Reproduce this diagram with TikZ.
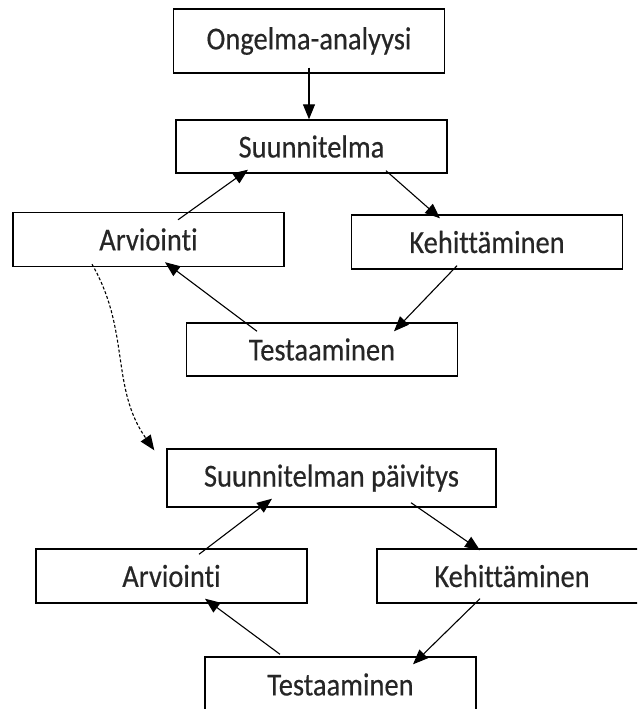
\documentclass[tikz,border=0pt]{standalone}
\usepackage{fontspec}
\setmainfont[FakeStretch=0.89,FakeBold=0.4,Ligatures=NoCommon]{Carlito}
\usetikzlibrary{arrows.meta}

\begin{document}
\begin{tikzpicture}[x=1pt,y=-1pt,
every node/.style={anchor=center,
line width=1.4pt,
minimum width=271pt,
minimum height=54pt,
inner sep=0pt,
font=\fontsize{32}{38}\selectfont,
text=black!85,
draw
},
wide/.style={%
minimum width=329pt,
minimum height=58pt
},
flow/.style={%
-{Triangle[length=15pt,width=12pt]},line width=1.1pt
},
later/.style={%
flow,dash pattern=on 3pt off 2pt
}]
\useasboundingbox (0,0) rectangle (637,709);
\clip (0,0) rectangle (637,709);
\node[minimum height=64pt]at(309,41)(oa){Ongelma-analyysi};
\node[minimum height=53pt]at(311.5,146.5)(sun){Suunnitelma};
\node[]at(148.5,239.5)(arv1){Arviointi};
\node[]at(487,242)(keh1){Kehittäminen};
\node[minimum height=53pt]at(322,349.5)(tes1){Testaaminen};
\node[wide]at(331.5,478)(pai){Suunnitelman päivitys};
\node[]at(171.5,576)(arv2){Arviointi};
\node[minimum width=270pt]at(512,576)(keh2){Kehittäminen};
\node[minimum height=55pt]at(340.5,684.5)(tes2){Testaaminen};
% first round
\draw [flow] ([yshift=6pt]oa.south)--(oa.south |- sun.north);
\draw [flow] ([xshift=29.5pt,yshift=-8pt]arv1.north)--([xshift=-63.5pt,yshift=4pt]sun.south);
\draw [flow] ([xshift=74.5pt,yshift=3pt]sun.south)--([xshift=-47pt,yshift=-4pt]keh1.north);
\draw [flow] ([xshift=-30pt,yshift=4pt]keh1.south)--([xshift=72pt,yshift=-9pt]tes1.north);
\draw [flow] ([xshift=-65pt,yshift=-9pt]tes1.north)--([xshift=16.5pt,yshift=5pt]arv1.south);
% to the update
\draw [later] ([xshift=-56.5pt,yshift=3pt]arv1.south) to[out=-60,in=125] ([xshift=-12pt,yshift=-2pt]pai.north west);
% second round
\draw [flow] ([xshift=27.5pt,yshift=-6pt]arv2.north)--([xshift=-59.5pt,yshift=9pt]pai.south);
\draw [flow] ([xshift=79.5pt,yshift=5pt]pai.south)--([xshift=-32pt,yshift=-2pt]keh2.north);
\draw [flow] ([xshift=-32pt,yshift=5pt]keh2.south)--([xshift=72.5pt,yshift=-8pt]tes2.north);
\draw [flow] ([xshift=-60.5pt,yshift=2pt]tes2.north)--([xshift=33.5pt,yshift=5pt]arv2.south);
\end{tikzpicture}
\end{document}
